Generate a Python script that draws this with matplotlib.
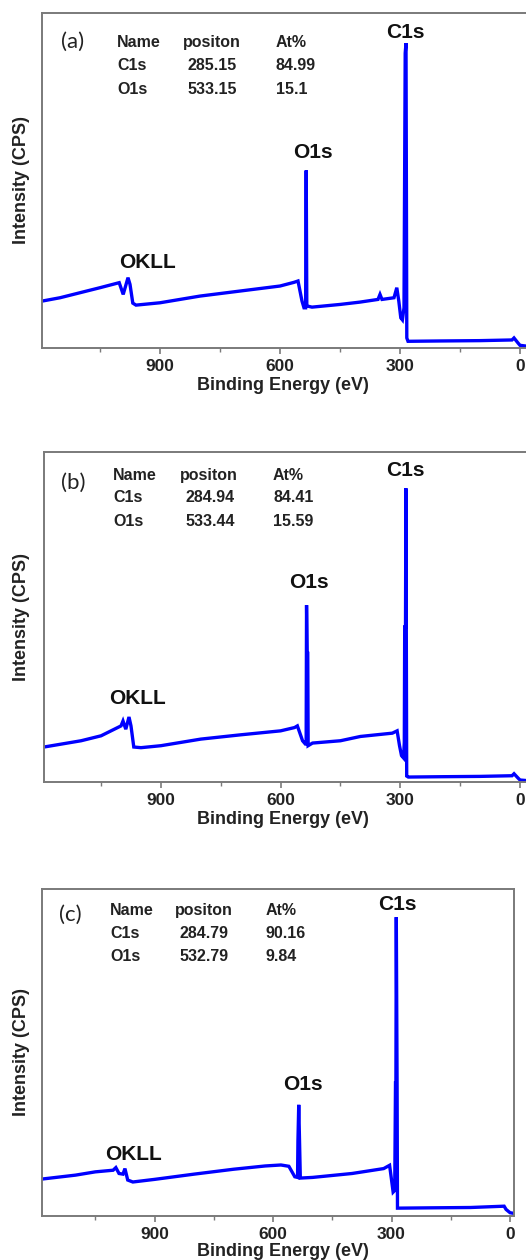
import matplotlib
matplotlib.use("Agg")
import matplotlib.pyplot as plt
from matplotlib.ticker import MultipleLocator

W, H = 526, 1260
DPI = 100

# ---------------- data (binding energy eV, intensity a.u.) ----------------
energy_a = [1195, 1150, 1100, 1050, 1002, 992, 980, 975, 968, 960, 900, 800, 700, 600,
            565, 555, 545, 540, 536, 534.5, 533, 531, 520, 450, 400, 355, 350, 345,
            315, 308, 303, 298, 294, 290, 287, 285, 283, 280, 200, 100, 20, 15, 5, 0, -20]
inten_a = [14, 15, 16.5, 18, 19.5, 16, 21, 19, 13.4, 12.8, 13.5, 15.5, 17, 18.5,
           19.6, 20, 14, 12, 12, 53, 13, 12.5, 12.2, 13, 13.7, 14.5, 16, 14.5,
           15, 18, 14, 9, 8.4, 12, 88, 91, 3, 2, 2.1, 2.2, 2.4, 3, 1.5, 0.8, 0.5]

energy_b = [1193, 1100, 1050, 1000, 995, 988, 980, 975, 968, 950, 900, 800, 700, 600,
            565, 558, 545, 538, 536, 535, 533.5, 532, 531, 520, 450, 400, 320, 308,
            302, 297, 292, 290, 289, 287, 286, 284, 280, 200, 100, 20, 15, 5, 0, -20]
inten_b = [10.6, 12.5, 14, 17, 18.5, 16, 19.7, 17, 10.6, 10.4, 11, 13, 14.3, 15.5,
           16.5, 17, 12.5, 11.5, 11.5, 53.6, 39, 39, 11, 11.8, 12.5, 13.8, 14.8, 15.5,
           11, 8, 7.3, 12, 47, 47, 89, 1.8, 1.5, 1.6, 1.7, 1.9, 2.5, 1.2, 0.6, 0.4]

energy_c = [1185, 1100, 1050, 1005, 998, 990, 980, 975, 968, 955, 900, 800, 700, 620,
            580, 560, 545, 538, 537, 535, 533, 531, 500, 400, 320, 305, 300, 296,
            292, 290, 289, 288, 286, 285, 200, 100, 15, 10, 0, -10]
inten_c = [11.3, 12.5, 13.5, 14, 14.8, 13, 12.8, 14.5, 11, 10.4, 11.2, 12.8, 14.3, 15.3,
           15.6, 15.2, 12, 11.8, 23, 34, 23, 11.6, 11.8, 13, 14.5, 15.5, 11, 7.3,
           7.8, 40.7, 40.7, 91.4, 40, 2.4, 2.5, 2.6, 3, 2, 1, 0.8]

tables = [
    [["Name", "positon", "At%"], ["C1s", "285.15", "84.99"], ["O1s", "533.15", "15.1"]],
    [["Name", "positon", "At%"], ["C1s", "284.94", "84.41"], ["O1s", "533.44", "15.59"]],
    [["Name", "positon", "At%"], ["C1s", "284.79", "90.16"], ["O1s", "532.79", "9.84"]],
]
panel_tags = ["(a)", "(b)", "(c)"]
peak_names = ["C1s", "O1s", "OKLL"]
xticks = [900, 600, 300, 0]

# ---------------- layout (pixels) ----------------
panels = [
    dict(e=energy_a, i=inten_a, box=(42, 13, 528, 348), xlim=(1195, -20),
         tag=(73, 42), table_x=(117, 183, 276), table_y=(42, 65, 89),
         peaks=[(405, 33), (313, 152), (148, 262)], xlab_y=386),
    dict(e=energy_b, i=inten_b, box=(44, 452, 528, 782), xlim=(1193, -20),
         tag=(73, 483), table_x=(113, 180, 273), table_y=(475, 497, 521),
         peaks=[(405, 470), (309, 582), (138, 698)], xlab_y=820),
    dict(e=energy_c, i=inten_c, box=(42, 889, 514, 1216), xlim=(1185, -10),
         tag=(70, 915), table_x=(110, 175, 266), table_y=(910, 933, 956),
         peaks=[(397, 905), (303, 1085), (134, 1154)], xlab_y=1251),
]

fig = plt.figure(figsize=(W / DPI, H / DPI), dpi=DPI)
fig.patch.set_facecolor("white")

BOLD = dict(family=["Liberation Sans", "DejaVu Sans"], fontweight="bold")
spine_col = "#7a7a7a"


def fx(x):
    return x / W


def fy(y):
    return 1 - y / H


for k, p in enumerate(panels):
    l, t, r, b = p["box"]
    ax = fig.add_axes([fx(l), fy(b), (r - l) / W, (b - t) / H])
    ax.plot(p["e"], p["i"], color="#0000ff", lw=2.4, solid_joinstyle="miter")
    ax.set_xlim(*p["xlim"])
    ax.set_ylim(0, 100)
    ax.set_yticks([])
    ax.set_xticks(xticks)
    ax.xaxis.set_minor_locator(MultipleLocator(150))
    for s in ax.spines.values():
        s.set_color(spine_col)
        s.set_linewidth(1.4)
    ax.tick_params(axis="x", which="major", direction="out", length=4, width=1.2,
                   color=spine_col, pad=4, labelsize=12.5)
    ax.tick_params(axis="x", which="minor", direction="out", length=3, width=1.0,
                   color=spine_col)
    for lab in ax.get_xticklabels():
        lab.set_fontfamily(["Liberation Sans", "DejaVu Sans"])
        lab.set_fontweight("bold")
        lab.set_color("#222222")

    # axis labels
    fig.text(fx(22), fy((t + b) / 2), "Intensity (CPS)", rotation=90,
             ha="center", va="center", fontsize=13, color="#222222", **BOLD)
    fig.text(fx(283), fy(p["xlab_y"]), "Binding Energy (eV)", ha="center", va="center",
             fontsize=13, color="#222222", **BOLD)

    # panel tag
    fig.text(fx(p["tag"][0]), fy(p["tag"][1]), panel_tags[k], ha="center", va="center",
             fontsize=16, family=["Lato", "DejaVu Sans"], color="#222222")

    # table
    for ri, row in enumerate(tables[k]):
        for ci, cell in enumerate(row):
            xx = p["table_x"][ci]
            if ri > 0 and ci == 1:
                xx += 5
            fig.text(fx(xx), fy(p["table_y"][ri] + 5), cell, ha="left", va="baseline",
                     fontsize=11.5, color="#222222", **BOLD)

    # peak names
    for name, (px, py) in zip(peak_names, p["peaks"]):
        fig.text(fx(px), fy(py), name, ha="center", va="center", fontsize=15,
                 color="#111111", **BOLD)

fig.savefig("out.png", dpi=DPI, facecolor="white")
